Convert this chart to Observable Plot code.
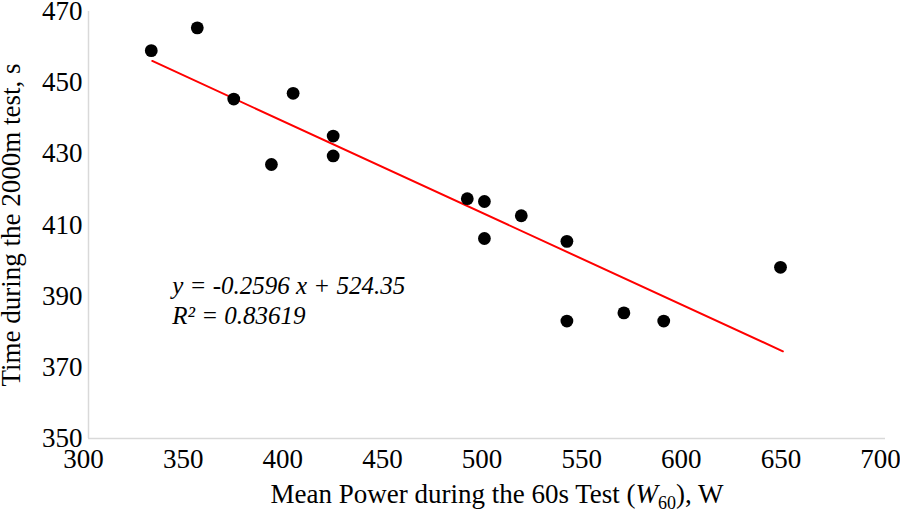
<!DOCTYPE html>
<html>
<head>
<meta charset="utf-8">
<script src="https://cdn.jsdelivr.net/npm/d3@7"></script>
<script src="https://cdn.jsdelivr.net/npm/@observablehq/plot@0.6"></script>
<style>
  html, body { margin: 0; padding: 0; background: #fff; }
  #chart svg { display: block; }
  #chart svg, #chart svg text { font-family: "Liberation Serif", "Times New Roman", serif !important; }
</style>
</head>
<body>
<div id="chart"></div>
<script>
// Mean power during 60 s test (W)
const power = [331.5, 354.6, 372.9, 402.7, 391.8, 422.8, 422.8, 490.1, 498.7, 517.2, 498.7, 540.1, 540.1, 568.7, 588.7, 647.3];
// Time during 2000 m test (s)
const time2000 = [459.0, 465.4, 445.4, 447.0, 427.0, 435.0, 429.4, 417.4, 416.6, 412.6, 406.2, 405.4, 383.0, 385.3, 383.0, 398.1];
// Trend line endpoints as drawn
const trendX = [332.0, 648.5];
const trendY = [456.1, 374.5];
const xTicks = [300, 350, 400, 450, 500, 550, 600, 650, 700];
const yTicks = [350, 370, 390, 410, 430, 450, 470];
const equationLines = ["y = -0.2596 x + 524.35", "R² = 0.83619"];
const equationPos = {x: 342, y: 389};

const points = power.map((p, i) => ({x: p, y: time2000[i]}));
const trend = trendX.map((x, i) => ({x, y: trendY[i]}));

const W = 900, H = 516;
const chart = Plot.plot({
  width: W,
  height: H,
  marginLeft: 88,
  marginRight: 15,
  marginTop: 11,
  marginBottom: 78,
  style: {fontSize: "27px", color: "#000", background: "#fff"},
  x: {domain: [300, 700], tickSize: 0, label: null},
  y: {domain: [350, 470], tickSize: 0, label: null},
  marks: [
    Plot.axisX(xTicks, {tickSize: 0, tickPadding: 10, dx: -5, label: null, fill: "#000"}),
    Plot.axisY(yTicks, {tickSize: 0, tickPadding: 6, fill: "#000",
      label: "Time during the 2000m test, s", labelAnchor: "center", labelArrow: "none", labelOffset: 88}),
    Plot.ruleX([300], {stroke: "#d9d9d9", strokeWidth: 1.5}),
    Plot.ruleY([350], {stroke: "#d9d9d9", strokeWidth: 1.5}),
    Plot.line(trend, {x: "x", y: "y", stroke: "#ff0000", strokeWidth: 2}),
    Plot.dot(points, {x: "x", y: "y", r: 6.4, fill: "#000", stroke: "none"}),
    Plot.text([equationLines.join("\n")], {x: () => equationPos.x, y: () => equationPos.y, text: d => d,
      textAnchor: "start", fontStyle: "italic", fontSize: 25, lineHeight: 1.17, fill: "#000"})
  ]
});

// X axis title with subscript
const svg = d3.select(chart);
const t = svg.append("text")
  .attr("x", 497)
  .attr("y", 503)
  .attr("text-anchor", "middle")
  .attr("font-size", 27)
  .attr("fill", "#000");
t.append("tspan").text("Mean Power during the 60s Test (");
t.append("tspan").attr("font-style", "italic").text("W");
t.append("tspan").attr("font-size", 18).attr("dy", 6).text("60");
t.append("tspan").attr("dy", -6).text("), W");

document.getElementById("chart").appendChild(chart);
</script>
</body>
</html>
